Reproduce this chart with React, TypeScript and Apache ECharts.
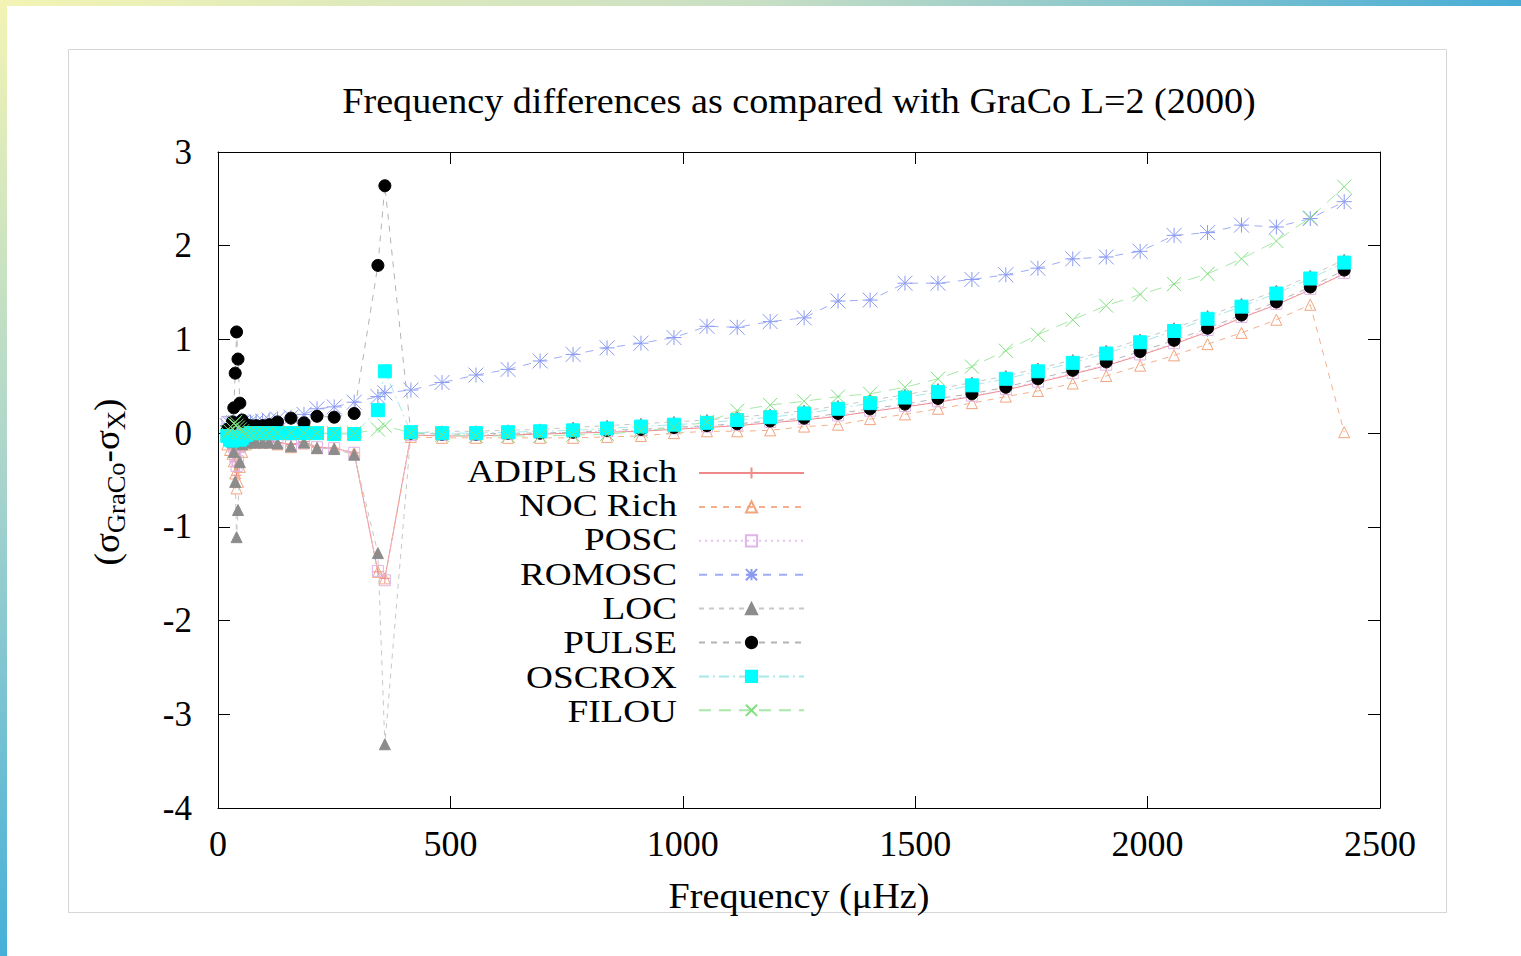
import React, { useEffect, useRef } from 'react';
import * as echarts from 'echarts';

// Frequencies (µHz) of the compared l=2 modes
const FREQ = [
  20, 26, 31, 34, 37, 40, 43, 47, 52, 60, 70, 82, 96, 110,
  128, 157, 185, 213, 250, 293,
  344, 359,
  415, 482, 555, 624, 693, 764, 837, 910, 981, 1052, 1117, 1188, 1261, 1334, 1403,
  1478, 1549, 1622, 1695, 1764, 1839, 1911, 1984, 2057, 2129, 2202, 2277, 2350, 2423,
];

const ADIPLS_RICH = [
  -0.05, -0.08, -0.12, -0.18, -0.3, -0.45, -0.35, -0.2, -0.1, -0.08, -0.08, -0.08, -0.08, -0.08,
  -0.1, -0.12, -0.09, -0.15, -0.16, -0.21,
  -1.48, -1.55,
  -0.02, -0.03, -0.03, -0.02, -0.01, 0.0, 0.01, 0.02, 0.04, 0.06, 0.08, 0.11, 0.14, 0.18, 0.23,
  0.28, 0.33, 0.39, 0.46, 0.54, 0.63, 0.72, 0.83, 0.95, 1.08, 1.23, 1.37, 1.53, 1.7,
];
const NOC_RICH = [
  -0.12, -0.18, -0.22, -0.3, -0.43, -0.59, -0.52, -0.36, -0.2, -0.12, -0.1, -0.1, -0.1, -0.1,
  -0.12, -0.15, -0.11, -0.16, -0.16, -0.21,
  -1.48, -1.55,
  -0.04, -0.05, -0.05, -0.05, -0.05, -0.05, -0.04, -0.03, 0.0, 0.02, 0.02, 0.03, 0.07, 0.09, 0.15,
  0.2, 0.26, 0.32, 0.39, 0.45, 0.53, 0.61, 0.72, 0.83, 0.95, 1.07, 1.21, 1.37, 0.01,
];
const POSC = [
  0.12, 0.02, -0.1, -0.15, -0.25, -0.35, -0.3, -0.15, -0.1, -0.08, -0.08, -0.08, -0.08, -0.08,
  -0.1, -0.13, -0.1, -0.15, -0.16, -0.21,
  -1.47, -1.57,
  -0.02, -0.02, -0.02, -0.01, 0.0, 0.01, 0.02, 0.03, 0.05, 0.07, 0.09, 0.12, 0.15, 0.19, 0.24,
  0.29, 0.34, 0.4, 0.47, 0.55, 0.64, 0.73, 0.84, 0.96, 1.1, 1.24, 1.38, 1.54, 1.71,
];
const ROMOSC = [
  0.08, 0.1, 0.1, 0.11, 0.1, 0.1, 0.1, 0.11, 0.11, 0.11, 0.12, 0.12, 0.13, 0.14,
  0.15, 0.17, 0.2, 0.26, 0.28, 0.33,
  0.39, 0.43,
  0.46, 0.54, 0.62, 0.68, 0.77, 0.84, 0.91, 0.96, 1.02, 1.14, 1.13, 1.19, 1.23, 1.41, 1.42,
  1.6, 1.6, 1.64, 1.69, 1.76, 1.86, 1.88, 1.94, 2.11, 2.14, 2.22, 2.2, 2.29, 2.47,
];
const LOC = [
  -0.03, -0.06, -0.1, -0.2, -0.52, -1.11, -0.82, -0.31, -0.12, -0.1, -0.1, -0.1, -0.1, -0.1,
  -0.11, -0.14, -0.1, -0.16, -0.17, -0.23,
  -1.28, -3.32,
  0.0, 0.02, 0.02, 0.03, 0.04, 0.06, 0.08, 0.1, 0.12, 0.14, 0.17, 0.2, 0.24, 0.29, 0.35,
  0.41, 0.47, 0.54, 0.61, 0.69, 0.78, 0.88, 1.0, 1.12, 1.25, 1.38, 1.52, 1.68, 1.85,
];
const PULSE = [
  0.04, 0.06, 0.12, 0.27, 0.64, 1.08, 0.79, 0.32, 0.14, 0.09, 0.08, 0.08, 0.08, 0.09,
  0.12, 0.16, 0.11, 0.18, 0.17, 0.21,
  1.79, 2.64,
  0.0, -0.01, -0.01, 0.0, 0.0, 0.01, 0.03, 0.04, 0.06, 0.08, 0.1, 0.13, 0.16, 0.21, 0.26,
  0.31, 0.37, 0.42, 0.49, 0.58, 0.67, 0.76, 0.87, 0.99, 1.12, 1.26, 1.4, 1.56, 1.74,
];
const OSCROX = [
  -0.03, -0.07, -0.08, -0.06, -0.05, -0.04, -0.06, -0.07, -0.05, -0.02, 0.0, 0.0, 0.0, 0.0,
  0.0, 0.0, 0.0, 0.0, -0.01, -0.01,
  0.245, 0.66,
  0.01, 0.0, 0.0, 0.01, 0.02, 0.03, 0.05, 0.07, 0.09, 0.11, 0.14, 0.17, 0.21, 0.26, 0.32,
  0.38, 0.44, 0.51, 0.58, 0.66, 0.75, 0.85, 0.97, 1.09, 1.22, 1.35, 1.49, 1.65, 1.82,
];
const FILOU = [
  0.0, 0.02, 0.05, 0.1, 0.12, 0.08, 0.06, 0.04, 0.02, 0.0, 0.0, 0.0, 0.0, 0.0,
  0.0, 0.0, 0.0, 0.0, 0.0, 0.0,
  0.04, 0.08,
  0.0, -0.02, -0.03, -0.03, -0.03, -0.02, -0.01, 0.02, 0.06, 0.12, 0.24, 0.3, 0.34, 0.39, 0.42,
  0.49, 0.58, 0.71, 0.88, 1.05, 1.21, 1.36, 1.48, 1.59, 1.7, 1.86, 2.05, 2.3, 2.63,
];

const SERIES_NAMES = ['ADIPLS Rich', 'NOC Rich', 'POSC', 'ROMOSC', 'LOC', 'PULSE', 'OSCROX', 'FILOU'];
const SERIES_VALUES = [ADIPLS_RICH, NOC_RICH, POSC, ROMOSC, LOC, PULSE, OSCROX, FILOU];

const TITLE = 'Frequency differences as compared with GraCo L=2 (2000)';
const X_NAME = 'Frequency (\u03bcHz)';

const FONT = "'Liberation Serif', 'Times New Roman', serif";

const PLUS = 'path://M5,0L5,10M0,5L10,5';
const CROSS = 'path://M0,0L10,10M10,0L0,10';
const STAR = 'path://M0,0L10,10M10,0L0,10M5,0L5,10M0,5L10,5';

const STYLES = [
  { line: '#f08a8a', dash: 'solid', symbol: PLUS, size: 10, fill: '#f08a8a', stroke: '#f08a8a' },
  { line: '#f4b08c', dash: [6, 6], symbol: 'triangle', size: 11, fill: 'transparent', stroke: '#f2a47e' },
  { line: '#e6c4ee', dash: [2, 4], symbol: 'rect', size: 11, fill: 'transparent', stroke: '#e0b4e8' },
  { line: '#a0acf4', dash: [8, 8], symbol: STAR, size: 15, fill: '#8a9af2', stroke: '#8a9af2' },
  { line: '#c8c8c8', dash: [5, 5], symbol: 'triangle', size: 11, fill: '#8c8c8c', stroke: '#8c8c8c' },
  { line: '#b4b4b4', dash: [6, 6], symbol: 'circle', size: 12, fill: '#000000', stroke: '#000000' },
  { line: '#a8e8e8', dash: [10, 4, 2, 4], symbol: 'rect', size: 13, fill: '#00ffff', stroke: '#00ffff' },
  { line: '#a8e8a8', dash: [12, 8], symbol: CROSS, size: 14, fill: '#7ce07c', stroke: '#7ce07c' },
];

// legend geometry (icons right edge at 805, rows 34.3px apart, first row centred at y=471)
const LEGEND_TEXT_RIGHT = 677;
const LEGEND_FIRST_Y = 471;
const LEGEND_ROW = 34.3;

function buildOption() {
  const series = SERIES_NAMES.map((name, i) => {
    const st = STYLES[i];
    return {
      name,
      type: 'line',
      data: FREQ.map((f, k) => [f, SERIES_VALUES[i][k]]),
      showAllSymbol: true,
      symbol: st.symbol,
      symbolSize: st.size,
      lineStyle: { color: st.line, width: 1, type: st.dash },
      itemStyle: { color: st.fill, borderColor: st.stroke, borderWidth: 1 },
      emphasis: { disabled: true },
    };
  });

  const axisLine = { show: true, onZero: false, lineStyle: { color: '#000', width: 1 } };
  const tick = { show: true, inside: true, length: 12, lineStyle: { color: '#000', width: 1 } };
  const label = { fontFamily: FONT, fontSize: 36, color: '#000', formatter: (v: number) => String(v) };

  const legendTexts = SERIES_NAMES.map((name, i) => ({
    type: 'text',
    x: LEGEND_TEXT_RIGHT,
    y: LEGEND_FIRST_Y + LEGEND_ROW * i,
    scaleX: 1.2,
    silent: true,
    style: { text: name, fontFamily: FONT, fontSize: 31, fill: '#000', align: 'right', verticalAlign: 'middle' },
  }));

  return {
    animation: false,
    backgroundColor: '#ffffff',
    grid: { left: 218, right: 141, top: 152, bottom: 148, containLabel: false },
    xAxis: [
      {
        type: 'value', min: 0, max: 2500, interval: 500, position: 'bottom',
        axisLine, axisTick: tick, splitLine: { show: false },
        axisLabel: { ...label, margin: 18 },
      },
      {
        type: 'value', min: 0, max: 2500, interval: 500, position: 'top',
        axisLine, axisTick: tick, splitLine: { show: false }, axisLabel: { show: false },
      },
    ],
    yAxis: [
      {
        type: 'value', min: -4, max: 3, interval: 1, position: 'left',
        axisLine, axisTick: tick, splitLine: { show: false },
        axisLabel: { ...label, fontSize: 35, margin: 26 },
      },
      {
        type: 'value', min: -4, max: 3, interval: 1, position: 'right',
        axisLine, axisTick: tick, splitLine: { show: false }, axisLabel: { show: false },
      },
    ],
    legend: {
      data: SERIES_NAMES,
      orient: 'vertical',
      align: 'right',
      right: 716,
      top: LEGEND_FIRST_Y - 5,
      padding: 0,
      itemWidth: 105,
      itemHeight: 14,
      itemGap: LEGEND_ROW - 14,
      selectedMode: false,
      formatter: () => '',
      textStyle: { fontSize: 8, color: '#000' },
    },
    graphic: [
      {
        type: 'rect', z: -10, silent: true,
        shape: { x: 0, y: 0, width: 1521, height: 6 },
        style: {
          fill: new echarts.graphic.LinearGradient(0, 0, 1, 0, [
            { offset: 0, color: '#f3f4b4' },
            { offset: 0.5, color: '#c8dfc4' },
            { offset: 1, color: '#46acd6' },
          ]),
        },
      },
      {
        type: 'rect', z: -10, silent: true,
        shape: { x: 0, y: 0, width: 7, height: 956 },
        style: {
          fill: new echarts.graphic.LinearGradient(0, 0, 0, 1, [
            { offset: 0, color: '#f3f4b4' },
            { offset: 0.5, color: '#a8d4cc' },
            { offset: 1, color: '#46b0d8' },
          ]),
        },
      },
      {
        type: 'rect', z: -5, silent: true,
        shape: { x: 68.5, y: 49.5, width: 1378, height: 863 },
        style: { fill: 'none', stroke: '#d6d6d6', lineWidth: 1 },
      },
      {
        type: 'text', x: 799, y: 101, scaleX: 1.09, silent: true,
        style: { text: TITLE, fontFamily: FONT, fontSize: 35, fill: '#000', align: 'center', verticalAlign: 'middle' },
      },
      {
        type: 'text', x: 799, y: 896, scaleX: 1.09, silent: true,
        style: { text: X_NAME, fontFamily: FONT, fontSize: 35, fill: '#000', align: 'center', verticalAlign: 'middle' },
      },
      {
        type: 'text', x: 107, y: 482, rotation: Math.PI / 2, scaleX: 1.06, silent: true,
        style: {
          text: '{a|(\u03c3}{s|GraCo}{a|-\u03c3}{s|X}{a|)}',
          align: 'center', verticalAlign: 'middle',
          rich: {
            a: { fontFamily: FONT, fontSize: 35, fill: '#000', lineHeight: 45, verticalAlign: 'middle' },
            s: { fontFamily: FONT, fontSize: 25, fill: '#000', lineHeight: 45, verticalAlign: 'bottom' },
          },
        },
      },
      ...legendTexts,
    ],
    series,
  };
}

export default function App() {
  const ref = useRef<HTMLDivElement>(null);
  useEffect(() => {
    if (!ref.current) return;
    const chart = echarts.init(ref.current, undefined, { renderer: 'svg' });
    chart.setOption(buildOption() as any);
    return () => chart.dispose();
  }, []);
  return (
    <div
      ref={ref}
      style={{ position: 'absolute', left: 0, top: 0, width: 1521, height: 956, background: '#fff' }}
    />
  );
}
